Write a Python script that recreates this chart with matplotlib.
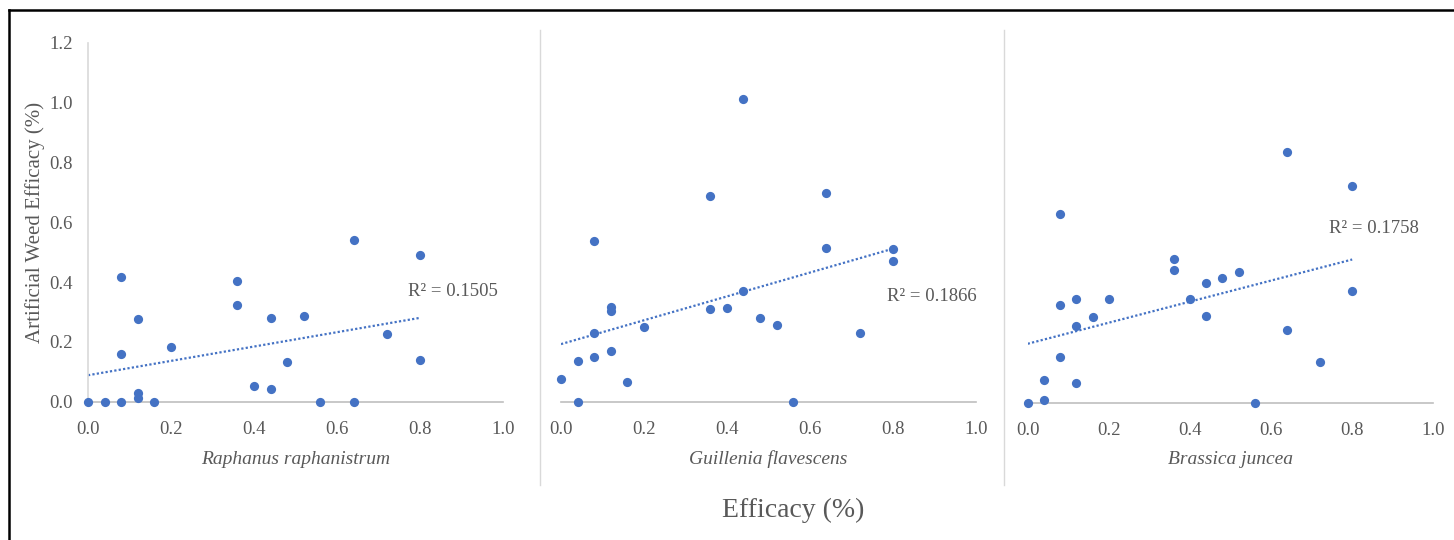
import numpy as np
import matplotlib
matplotlib.use("Agg")
import matplotlib.pyplot as plt
from matplotlib.lines import Line2D

# efficacy (x) and artificial weed efficacy (y) for each species
rr_x = [0.0, 0.04, 0.08, 0.08, 0.08, 0.12, 0.12, 0.12, 0.16, 0.20, 0.36, 0.36,
        0.40, 0.44, 0.44, 0.48, 0.52, 0.56, 0.64, 0.64, 0.72, 0.80, 0.80]
rr_y = [0.0, 0.0, 0.0, 0.416, 0.160, 0.030, 0.011, 0.277, 0.0, 0.183, 0.402, 0.322,
        0.052, 0.281, 0.043, 0.132, 0.286, 0.0, 0.541, 0.0, 0.225, 0.490, 0.140]

gf_x = [0.0, 0.04, 0.04, 0.08, 0.08, 0.08, 0.12, 0.12, 0.12, 0.16, 0.20, 0.36,
        0.36, 0.40, 0.44, 0.44, 0.48, 0.52, 0.56, 0.64, 0.64, 0.72, 0.80, 0.80]
gf_y = [0.077, 0.137, 0.0, 0.537, 0.231, 0.150, 0.315, 0.304, 0.169, 0.067, 0.250, 0.686,
        0.309, 0.313, 1.013, 0.370, 0.281, 0.257, 0.0, 0.696, 0.514, 0.231, 0.509, 0.471]

bj_x = [0.0, 0.04, 0.04, 0.08, 0.08, 0.08, 0.12, 0.12, 0.12, 0.16, 0.20, 0.36,
        0.36, 0.40, 0.44, 0.44, 0.48, 0.52, 0.56, 0.64, 0.64, 0.72, 0.80, 0.80]
bj_y = [0.0, 0.009, 0.075, 0.630, 0.326, 0.154, 0.345, 0.257, 0.066, 0.285, 0.345, 0.480,
        0.442, 0.345, 0.401, 0.289, 0.416, 0.438, 0.0, 0.839, 0.242, 0.135, 0.723, 0.373]

species = ["Raphanus raphanistrum", "Guillenia flavescens", "Brassica juncea"]
r2_labels = ["R² = 0.1505", "R² = 0.1866", "R² = 0.1758"]
r2_pos = [(0.77, 0.367), (0.785, 0.353), (0.743, 0.581)]
xticks = [0.0, 0.2, 0.4, 0.6, 0.8, 1.0]
yticks = [0.0, 0.2, 0.4, 0.6, 0.8, 1.0, 1.2]

data = [(rr_x, rr_y), (gf_x, gf_y), (bj_x, bj_y)]

W, H = 1454, 540
fig = plt.figure(figsize=(W / 100, H / 100), dpi=100)
plt.rcParams['font.family'] = ['Liberation Serif', 'DejaVu Serif']

blue = "#4472C4"
txt = "#595959"

# axes boxes in pixels: left, right, y of zero (from top)
boxes = [(88, 503, 401.7), (561, 975.7, 401.7), (1027.7, 1433.3, 402.7)]
ax_h = 359

for i, ((x, y), (l, r, y0)) in enumerate(zip(data, boxes)):
    ax = fig.add_axes([l / W, (H - y0) / H, (r - l) / W, ax_h / H])
    ax.set_xlim(0, 1)
    ax.set_ylim(0, 1.2)
    ax.scatter(x, y, s=44, color=blue, zorder=3, linewidths=0, clip_on=False)
    slope, icpt = np.polyfit(x, y, 1)
    xs = np.array([min(x), max(x)])
    ax.plot(xs, slope * xs + icpt, color=blue, lw=1.6, ls=(0, (1, 1)), zorder=2)
    ax.text(r2_pos[i][0], r2_pos[i][1], r2_labels[i], fontsize=13.5, color=txt,
            ha="left", va="center")
    for s in ["top", "right"]:
        ax.spines[s].set_visible(False)
    ax.spines["bottom"].set_color("#bfbfbf")
    ax.spines["bottom"].set_linewidth(1.2)
    ax.set_xticks(xticks)
    ax.set_xticklabels([f"{t:.1f}" for t in xticks])
    ax.tick_params(axis="x", length=0, pad=14, labelsize=13.5, labelcolor=txt)
    if i == 0:
        ax.spines["left"].set_color("#d9d9d9")
        ax.spines["left"].set_linewidth(1.2)
        ax.set_yticks(yticks)
        ax.set_yticklabels([f"{t:.1f}" for t in yticks])
        ax.tick_params(axis="y", length=0, pad=11, labelsize=13.5, labelcolor=txt)
    else:
        ax.spines["left"].set_visible(False)
        ax.set_yticks([])
    ax.patch.set_alpha(0)
    fig.text((l + r) / 2 / W, 1 - 459 / H, species[i], style="italic",
             fontsize=14, color=txt, ha="center", va="center")

fig.text(35 / W, 1 - 222 / H, "Artificial Weed Efficacy (%)", rotation=90,
         fontsize=15, color=txt, ha="center", va="center")
fig.text(793 / W, 1 - 510 / H, "Efficacy (%)", fontsize=20, color=txt,
         ha="center", va="center")

# panel separators
for sx in [540, 1004]:
    fig.add_artist(Line2D([sx / W, sx / W], [1 - 30 / H, 1 - 485 / H],
                          color="#d9d9d9", lw=1.0))

# outer frame (top and left only)
fig.add_artist(Line2D([9 / W, 1], [1 - 10 / H, 1 - 10 / H], color="black", lw=1.8))
fig.add_artist(Line2D([9 / W, 9 / W], [0, 1 - 10 / H], color="black", lw=1.8))

fig.savefig("out.png", dpi=100)
